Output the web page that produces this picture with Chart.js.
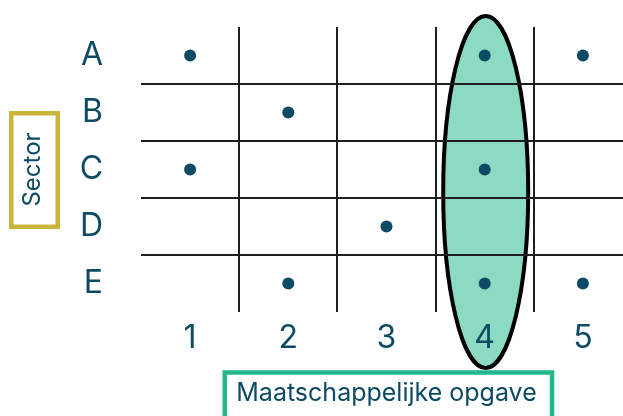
<!DOCTYPE html>
<html>
<head>
<meta charset="utf-8">
<script src="https://cdn.jsdelivr.net/npm/chart.js@4/dist/chart.umd.min.js"></script>
<style>
  html, body { margin: 0; padding: 0; background: #ffffff; overflow: hidden; }
  #wrap { width: 638px; height: 416px; position: relative; overflow: hidden; }
  canvas { display: block; }
</style>
</head>
<body>
<div id="wrap"><canvas id="c" width="638" height="416" style="width:638px;height:416px"></canvas></div>
<script>
// ---- data ----
const sectors = ['A', 'B', 'C', 'D', 'E'];
const opgaven = ['1', '2', '3', '4', '5'];
const pointOpgave = ['1', '4', '5', '2', '1', '4', '3', '2', '4', '5'];
const pointSector = ['A', 'A', 'A', 'B', 'C', 'C', 'D', 'E', 'E', 'E'];
const highlightedOpgave = '4';
const yTitle = 'Sector';
const xTitle = 'Maatschappelijke opgave';

const TEXT = '#0d4a63';
const FONT = 'Inter';

const points = pointOpgave.map((o, i) => ({ x: o, y: pointSector[i] }));

const gridColor = ctx => (ctx.type === 'tick' && ctx.index > 0) ? '#1e1e1e' : 'rgba(0,0,0,0)';

const highlightPlugin = {
  id: 'highlight',
  beforeDraw(chart) {
    const { ctx, scales } = chart;
    const cx = scales.x.getPixelForValue(opgaven.indexOf(highlightedOpgave)) + 1;
    const top = 16, bottom = 368;
    ctx.save();
    ctx.beginPath();
    ctx.ellipse(cx, (top + bottom) / 2, 42.5, (bottom - top) / 2, 0, 0, Math.PI * 2);
    ctx.fillStyle = '#8cd9c4';
    ctx.fill();
    ctx.lineWidth = 4;
    ctx.strokeStyle = '#000000';
    ctx.stroke();
    ctx.restore();
  },
  afterDraw(chart) {
    const { ctx } = chart;
    ctx.save();
    ctx.lineWidth = 4.5;
    ctx.strokeStyle = '#c9b53a';
    ctx.strokeRect(11.25, 113.25, 46.5, 113.5);
    ctx.strokeStyle = '#20b98c';
    ctx.strokeRect(224.75, 372.5, 327.25, 60);
    ctx.restore();
  }
};

function zeroPad(scale) {
  scale.paddingTop = 0; scale.paddingBottom = 0;
  scale.paddingLeft = 0; scale.paddingRight = 0;
}

new Chart(document.getElementById('c'), {
  type: 'scatter',
  data: {
    datasets: [{
      data: points,
      pointRadius: 6,
      pointHoverRadius: 6,
      pointBackgroundColor: TEXT,
      pointBorderWidth: 0,
      showLine: false
    }]
  },
  options: {
    responsive: false,
    maintainAspectRatio: false,
    animation: false,
    devicePixelRatio: 1,
    layout: { padding: { top: 27, right: 1, bottom: 0, left: 0 } },
    plugins: { legend: { display: false }, tooltip: { enabled: false } },
    scales: {
      x: {
        type: 'category',
        labels: opgaven,
        offset: true,
        grid: { offset: true, drawTicks: false, color: gridColor, lineWidth: 2 },
        border: { display: false },
        ticks: { color: TEXT, font: { family: FONT, size: 32 }, padding: 7 },
        title: { display: true, text: xTitle, color: TEXT, font: { family: FONT, size: 25 }, padding: { top: 0, bottom: 8 } },
        afterFit(scale) { scale.height = 104; zeroPad(scale); }
      },
      y: {
        type: 'category',
        labels: sectors,
        offset: true,
        grid: { offset: true, drawTicks: false, color: gridColor, lineWidth: 2 },
        border: { display: false },
        ticks: { color: TEXT, font: { family: FONT, size: 32 }, padding: 38 },
        title: { display: true, text: yTitle, color: TEXT, font: { family: FONT, size: 24 }, padding: { top: 18, bottom: 0 } },
        afterFit(scale) { scale.width = 141; zeroPad(scale); }
      }
    }
  },
  plugins: [highlightPlugin]
});
</script>
</body>
</html>
